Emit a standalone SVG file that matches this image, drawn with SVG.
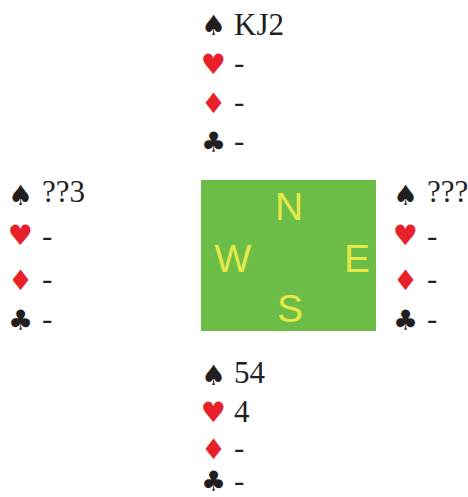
<svg xmlns="http://www.w3.org/2000/svg" width="468" height="497" viewBox="0 0 468 497">
<style>
.s{font-family:"DejaVu Sans",sans-serif;font-size:28px;dominant-baseline:central}
.b{fill:#231f20}
.r{fill:#e8202a}
.t{font-family:"Liberation Serif",serif;font-size:31px;fill:#231f20}
.d{font-family:"Liberation Serif",serif;font-size:31px;fill:#231f20;dominant-baseline:central}
.c{font-family:"Liberation Sans",sans-serif;font-size:39px;fill:#e6e84a;text-anchor:middle}
</style>
<rect width="468" height="497" fill="#ffffff"/>
<g id="north">
<text class="s b" x="201" y="25">♠</text><text class="t" x="234" y="35">KJ2</text>
<text class="s r" x="201" y="64">♥</text><text class="d" x="234" y="62">-</text>
<text class="s r" x="201" y="103">♦</text><text class="d" x="234" y="101">-</text>
<text class="s b" x="201" y="142">♣</text><text class="d" x="234" y="140">-</text>
</g>
<g id="west">
<text class="s b" x="8" y="195">♠</text><text class="t" x="42" y="202">??3</text>
<text class="s r" x="8" y="235">♥</text><text class="d" x="42" y="235">-</text>
<text class="s r" x="8" y="280">♦</text><text class="d" x="42" y="278">-</text>
<text class="s b" x="8" y="320">♣</text><text class="d" x="42" y="318">-</text>
</g>
<g id="east">
<text class="s b" x="393" y="195">♠</text><text class="t" x="427" y="202">???</text>
<text class="s r" x="393" y="235">♥</text><text class="d" x="427" y="235">-</text>
<text class="s r" x="393" y="280">♦</text><text class="d" x="427" y="278">-</text>
<text class="s b" x="393" y="320">♣</text><text class="d" x="427" y="318">-</text>
</g>
<g id="south">
<text class="s b" x="201" y="375">♠</text><text class="t" x="234" y="383">54</text>
<text class="s r" x="201" y="412">♥</text><text class="t" x="234" y="422">4</text>
<text class="s r" x="201" y="449">♦</text><text class="d" x="234" y="447">-</text>
<text class="s b" x="201" y="481">♣</text><text class="d" x="234" y="480">-</text>
</g>
<g id="compass">
<rect x="201" y="180" width="175" height="151" fill="#6cbd45"/>
<text class="c" x="289" y="220">N</text>
<text class="c" x="233" y="272">W</text>
<text class="c" x="357" y="272">E</text>
<text class="c" x="290" y="322">S</text>
</g>
<g id="connectors"/>
</svg>
